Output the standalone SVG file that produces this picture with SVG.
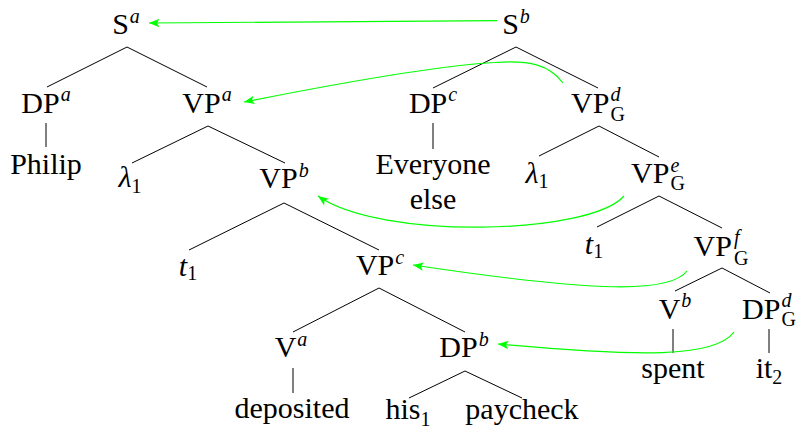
<svg xmlns="http://www.w3.org/2000/svg" width="798" height="429" viewBox="0 0 798 429">
<style>
text{font-family:'Liberation Serif','Times New Roman',serif;font-size:30px;fill:#000;text-anchor:middle}
.sp{font-size:20px;font-style:italic}
.sb{font-size:20px}
.it{font-style:italic}
.e{stroke:#000;stroke-width:1;fill:none}
.g{stroke:#00ff00;stroke-width:1.2;fill:none;marker-end:url(#ah)}
</style>
<defs>
<marker id="ah" markerUnits="userSpaceOnUse" markerWidth="12" markerHeight="10" viewBox="0 0 12 10" refX="11" refY="5" orient="auto"><path d="M0.5,0.8 L11,5 L0.5,9.2 L3,5 z" fill="#00ff00"/></marker>
</defs>
<rect width="798" height="429" fill="#fff"/>
<g id="connectors">
<path class="e" d="M127,47 L47,87 M127,47 L207,87"/>
<path class="e" d="M46,123 L46,147"/>
<path class="e" d="M208,126 L132,163 M208,126 L285,163"/>
<path class="e" d="M284,203 L189,250 M284,203 L379,250"/>
<path class="e" d="M379,288 L293,332 M379,288 L465,332"/>
<path class="e" d="M293,368 L293,393"/>
<path class="e" d="M465,371 L409,398 M465,371 L522,398"/>
<path class="e" d="M516,47 L433,88 M516,47 L598,88"/>
<path class="e" d="M433,123 L433,149"/>
<path class="e" d="M599,126 L539,156 M599,126 L659,157"/>
<path class="e" d="M659,196 L597,227 M659,196 L722,228"/>
<path class="e" d="M722,268 L675,291 M722,268 L770,293"/>
<path class="e" d="M673,329 L673,353"/>
<path class="e" d="M769,329 L769,353"/>
<path class="g" d="M497,20.6 L149,23"/>
<path class="g" d="M563,83 C550,65 530,60 495,62.5 C440,65 330,85 244,102"/>
<path class="g" d="M624,196 C590,235 380,240 318,196"/>
<path class="g" d="M687,271 C670,293 600,293 413,265"/>
<path class="g" d="M734,332 C715,358 640,357 498,344"/>
</g>
<g id="Sa"><text x="126" y="34">S<tspan class="sp" dy="-11" dx="1">a</tspan></text></g>
<g id="Sb"><text x="516" y="34">S<tspan class="sp" dy="-11" dx="1">b</tspan></text></g>
<g id="DPa"><text x="46" y="113">DP<tspan class="sp" dy="-12" dx="1">a</tspan></text></g>
<g id="VPa"><text x="207" y="113">VP<tspan class="sp" dy="-12" dx="1">a</tspan></text></g>
<g id="Philip"><text x="46" y="174">Philip</text></g>
<g id="lambda1a"><text x="130" y="187"><tspan class="it">λ</tspan><tspan class="sb" dy="6">1</tspan></text></g>
<g id="VPb"><text x="284" y="188">VP<tspan class="sp" dy="-11" dx="1">b</tspan></text></g>
<g id="t1a"><text x="188" y="276"><tspan class="it">t</tspan><tspan class="sb" dy="4">1</tspan></text></g>
<g id="VPc"><text x="380" y="275">VP<tspan class="sp" dy="-11" dx="1">c</tspan></text></g>
<g id="Va"><text x="291" y="357">V<tspan class="sp" dy="-11" dx="1">a</tspan></text></g>
<g id="DPb"><text x="464" y="357">DP<tspan class="sp" dy="-11" dx="1">b</tspan></text></g>
<g id="deposited"><text x="292" y="418">deposited</text></g>
<g id="his1"><text x="408" y="419">his<tspan class="sb" dy="7">1</tspan></text></g>
<g id="paycheck"><text x="522" y="419">paycheck</text></g>
<g id="DPc"><text x="433" y="113">DP<tspan class="sp" dy="-12" dx="1">c</tspan></text></g>
<g id="Everyone"><text x="433" y="174">Everyone</text><text x="433" y="209">else</text></g>
<g id="VPd"><text x="598" y="113">VP<tspan class="sp" dy="-12" dx="1">d</tspan><tspan class="sb" dx="-10" dy="20">G</tspan></text></g>
<g id="lambda1b"><text x="537" y="183"><tspan class="it">λ</tspan><tspan class="sb" dy="5">1</tspan></text></g>
<g id="VPe"><text x="658" y="183">VP<tspan class="sp" dy="-11" dx="1">e</tspan><tspan class="sb" dx="-8.9" dy="18">G</tspan></text></g>
<g id="t1b"><text x="594" y="254"><tspan class="it">t</tspan><tspan class="sb" dy="4">1</tspan></text></g>
<g id="VPf"><text x="721" y="256">VP<tspan class="sp" dy="-12" dx="2">f</tspan><tspan class="sb" dx="-5.6" dy="21">G</tspan></text></g>
<g id="Vb"><text x="675" y="319">V<tspan class="sp" dy="-12" dx="1">b</tspan></text></g>
<g id="DPd"><text x="769" y="319">DP<tspan class="sp" dy="-12" dx="1">d</tspan><tspan class="sb" dx="-10" dy="19">G</tspan></text></g>
<g id="spent"><text x="673" y="378">spent</text></g>
<g id="it2"><text x="769" y="378">it<tspan class="sb" dy="6">2</tspan></text></g>
</svg>
